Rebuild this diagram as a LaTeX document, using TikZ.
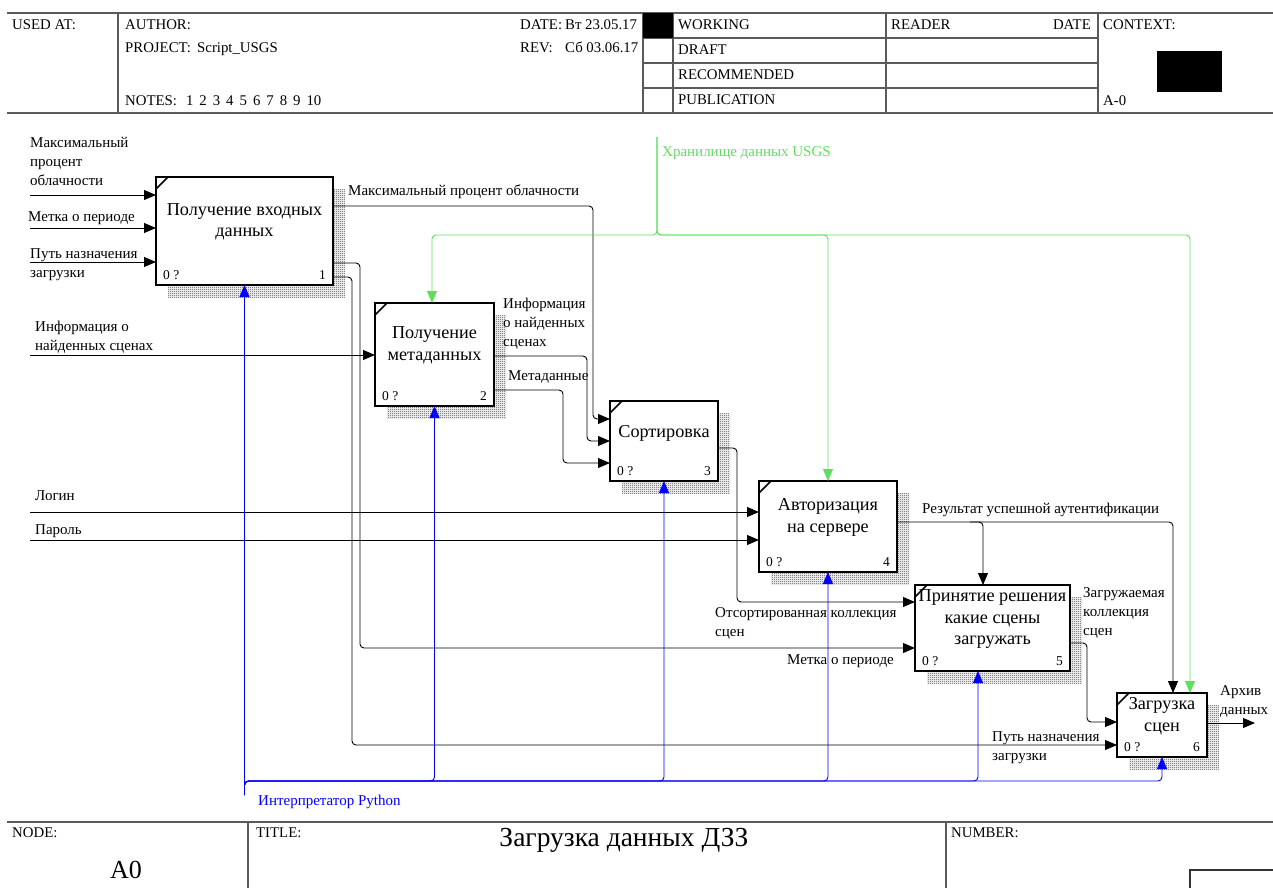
\documentclass[tikz,border=0pt]{standalone}
\usepackage{fontspec}
\setmainfont{Liberation Serif}
\usetikzlibrary{arrows.meta,patterns,shadows}

\definecolor{framegray}{RGB}{90,90,90}
\definecolor{ctrlgreen}{RGB}{95,222,95}
\definecolor{mechblue}{RGB}{0,0,255}

% fine 1pt checker used for the box shadows
\pgfdeclarepatternformonly{finechecker}{\pgfqpoint{0pt}{0pt}}{\pgfqpoint{2pt}{2pt}}{\pgfqpoint{2pt}{2pt}}{%
  \pgfpathrectangle{\pgfqpoint{0pt}{0pt}}{\pgfqpoint{1pt}{1pt}}%
  \pgfpathrectangle{\pgfqpoint{1pt}{1pt}}{\pgfqpoint{1pt}{1pt}}%
  \pgfusepath{fill}}

\begin{document}
\begin{tikzpicture}[x=1pt,y=-1pt,
  frame/.style={draw=framegray, line width=1.6pt},
  hdr/.style={anchor=base west, inner sep=0pt, font=\fontsize{14.8}{18}\selectfont},
  fbox/.style={draw=black, line width=2.2pt, fill=white, outer sep=0pt, inner sep=0pt,
    general shadow={shadow xshift=12pt, shadow yshift=-12pt, pattern=finechecker, pattern color=black!75}},
  boxtext/.style={align=center, inner sep=0pt, font=\fontsize{18.2}{21.5}\selectfont},
  boxnum/.style={inner sep=0pt, font=\fontsize{13.5}{15}\selectfont},
  corner/.style={draw=black, line width=1.5pt},
  lbl/.style={anchor=base west, inner sep=0pt, font=\fontsize{15}{19}\selectfont},
  mlbl/.style={anchor=north west, inner sep=0pt, align=left, font=\fontsize{15}{19}\selectfont},
  flow/.style={draw=black, line width=0.9pt, rounded corners=4pt, -{Triangle[length=12pt,width=10pt]}},
  ctrl/.style={flow, draw=ctrlgreen, -{Triangle[length=12pt,width=10pt,fill=ctrlgreen]}},
  mech/.style={flow, draw=mechblue, -{Triangle[length=12pt,width=10pt,fill=mechblue]}}
]
\useasboundingbox (0,0) rectangle (1273,888);

% ---------- header frame ----------
\draw[frame] (7,13) -- (1273,13);
\draw[frame] (7,113) -- (1273,113);
\draw[frame] (118,13) -- (118,113);
\draw[frame] (643,13) -- (643,113);
\draw[frame] (673,13) -- (673,113);
\draw[frame] (886,13) -- (886,113);
\draw[frame] (1098,13) -- (1098,113);
\draw[frame] (643,38) -- (1098,38);
\draw[frame] (643,63) -- (1098,63);
\draw[frame] (643,88) -- (1098,88);
\fill[black] (643,13) rectangle (673,38);
\fill[black] (1157,51) rectangle (1222,92);

\node[hdr] (usedat) at (12,30) {USED AT:};
\node[hdr] (author) at (125,30) {AUTHOR:};
\node[hdr] (project) at (125,53) {PROJECT:};
\node[hdr] (projname) at (197,53) {Script\_USGS};
\node[hdr] (notes) at (125,106) {NOTES:\hspace{9pt}1\hspace{6pt}2\hspace{6pt}3\hspace{6pt}4\hspace{6pt}5\hspace{6pt}6\hspace{6pt}7\hspace{6pt}8\hspace{6pt}9\hspace{6pt}10};
\node[hdr] (date) at (520,30) {DATE:};
\node[hdr] (dateval) at (565,30) {Вт 23.05.17};
\node[hdr] (rev) at (520,53) {REV:};
\node[hdr] (revval) at (565,53) {Сб 03.06.17};
\node[hdr] (working) at (678,30) {WORKING};
\node[hdr] (draft) at (678,55) {DRAFT};
\node[hdr] (recommended) at (678,80) {RECOMMENDED};
\node[hdr] (publication) at (678,105) {PUBLICATION};
\node[hdr] (reader) at (891,30) {READER};
\node[hdr, anchor=base east] (rdate) at (1091,30) {DATE};
\node[hdr] (context) at (1103,30) {CONTEXT:};
\node[hdr] (ctxnode) at (1103,106) {A-0};

% ---------- footer frame ----------
\draw[frame] (7,822) -- (1273,822);
\draw[frame] (248,822) -- (248,888);
\draw[frame] (946,822) -- (946,888);
\draw[draw=black!80, line width=1.2pt] (1273,870) -- (1190,870) -- (1190,888);
\node[hdr] (nodelbl) at (12,837) {NODE:};
\node[hdr] (titlelbl) at (256,837) {TITLE:};
\node[hdr] (numberlbl) at (951,837) {NUMBER:};
\node[anchor=base, inner sep=0pt, font=\fontsize{27.5}{30}\selectfont] (title) at (624,846) {Загрузка данных ДЗЗ};
\node[anchor=base west, inner sep=0pt, font=\fontsize{26}{30}\selectfont] (nodeid) at (110,878) {A0};

% ---------- activity boxes ----------
\node[fbox, minimum width=177, minimum height=108] (b1) at (244.5,231) {};
\node[fbox, minimum width=119, minimum height=103] (b2) at (434.5,354.5) {};
\node[fbox, minimum width=108, minimum height=80] (b3) at (664,441) {};
\node[fbox, minimum width=138, minimum height=91] (b4) at (828,526.5) {};
\node[fbox, minimum width=155, minimum height=86] (b5) at (992.5,628) {};
\node[fbox, minimum width=90, minimum height=64] (b6) at (1162,725) {};

\foreach \b/\n in {b1/1,b2/2,b3/3,b4/4,b5/5,b6/6}{
  \draw[corner] ([shift={(0,12)}]\b.north west) -- ([shift={(12,0)}]\b.north west);
  \node[boxnum, anchor=base west] (\b zero) at ([shift={(7,-6)}]\b.south west) {0 ?};
  \node[boxnum, anchor=base east] (\b num) at ([shift={(-7,-6)}]\b.south east) {\n};
}

\node[boxtext] (t1) at ([yshift=9pt]b1.center) {Получение входных\\данных};
\node[boxtext] (t2) at ([yshift=9pt]b2.center) {Получение\\метаданных};
\node[boxtext] (t3) at ([yshift=8pt]b3.center) {Сортировка};
\node[boxtext] (t4) at ([yshift=9pt]b4.center) {Авторизация\\на сервере};
\node[boxtext] (t5) at ([yshift=9pt]b5.center) {Принятие решения\\какие сцены\\загружать};
\node[boxtext] (t6) at ([yshift=9pt]b6.center) {Загрузка\\сцен};

% ---------- free ends ----------
\coordinate (in1) at (30,195);
\coordinate (in2) at (30,228);
\coordinate (in3) at (30,262);
\coordinate (in4) at (30,355);
\coordinate (in5) at (30,512);
\coordinate (in6) at (30,540);
\coordinate (out1) at (1255,723);
\coordinate (src) at (657,137);
\coordinate (mec) at (244.5,795);
\coordinate (j1) at (970,522);

% ---------- inputs ----------
\draw[flow] (in1) -- (b1.west |- in1);
\draw[flow] (in2) -- (b1.west |- in2);
\draw[flow] (in3) -- (b1.west |- in3);
\draw[flow] (in4) -- (b2.west |- in4);
\draw[flow] (in5) -- (b4.west |- in5);
\draw[flow] (in6) -- (b4.west |- in6);

% ---------- internal flows ----------
\draw[flow] (b1.east |- 0,206) -- (593,206) -- (593,419) -- (b3.west |- 0,419);
\draw[flow] (b1.east |- 0,263) -- (360,263) -- (360,648) -- (b5.west |- 0,648);
\draw[flow] (b1.east |- 0,277) -- (352,277) -- (352,745) -- (b6.west |- 0,745);
\draw[flow] (b2.east |- 0,356) -- (587,356) -- (587,441) -- (b3.west |- 0,441);
\draw[flow] (b2.east |- 0,390) -- (563,390) -- (563,463) -- (b3.west |- 0,463);
\draw[flow] (b3.east |- 0,448) -- (737,448) -- (737,602) -- (b5.west |- 0,602);
\draw[flow] (b4.east |- 0,522) -- (1173,522) -- (b6.north -| 1173,0);
\draw[flow] (j1) -- (983,522) -- (b5.north -| 983,0);
\draw[flow] (b5.east |- 0,643) -- (1087,643) -- (1087,722) -- (b6.west |- 0,722);
\draw[flow] (b6.east |- out1) -- (out1);

% ---------- controls ----------
\draw[ctrl] (src) -- (657,235) -- (432,235) -- (b2.north -| 432,0);
\draw[ctrl] (src) -- (657,235) -- (828,235) -- (b4.north);
\draw[ctrl] (src) -- (657,235) -- (1190,235) -- (b6.north -| 1190,0);

% ---------- mechanisms ----------
\draw[mech] (mec) -- (b1.south);
\draw[mech] (mec) -- (244.5,781) -- (b2.south |- 0,781) -- (b2.south);
\draw[mech] (mec) -- (244.5,781) -- (b3.south |- 0,781) -- (b3.south);
\draw[mech] (mec) -- (244.5,781) -- (b4.south |- 0,781) -- (b4.south);
\draw[mech] (mec) -- (244.5,781) -- (978,781) -- (b5.south -| 978,0);
\draw[mech] (mec) -- (244.5,781) -- (b6.south |- 0,781) -- (b6.south);

% ---------- arrow labels ----------
\node[mlbl] (l1) at (30,137.5) {Максимальный\\процент\\облачности};
\node[lbl] (l2) at (28,221) {Метка о периоде};
\node[mlbl] (l3) at (30,248.5) {Путь назначения\\загрузки};
\node[mlbl] (l4) at (35,320.5) {Информация о\\найденных сценах};
\node[lbl] (l5) at (348,195) {Максимальный процент облачности};
\node[mlbl] (l6) at (503,297.5) {Информация\\о найденных\\сценах};
\node[lbl] (l7) at (508,380) {Метаданные};
\node[lbl] (l8) at (35,500) {Логин};
\node[lbl] (l9) at (35,534) {Пароль};
\node[lbl] (l10) at (922,513) {Результат успешной аутентификации};
\node[mlbl] (l11) at (715,607.5) {Отсортированная коллекция\\сцен};
\node[lbl] (l12) at (787,664) {Метка о периоде};
\node[mlbl] (l13) at (1083,587.5) {Загружаемая\\коллекция\\сцен};
\node[mlbl] (l14) at (992,731.5) {Путь назначения\\загрузки};
\node[mlbl] (l15) at (1220,685) {Архив\\данных};
\node[lbl, text=ctrlgreen] (l16) at (662,156) {Хранилище данных USGS};
\node[lbl, text=mechblue] (l17) at (258,805) {Интерпретатор Python};

\end{tikzpicture}
\end{document}
